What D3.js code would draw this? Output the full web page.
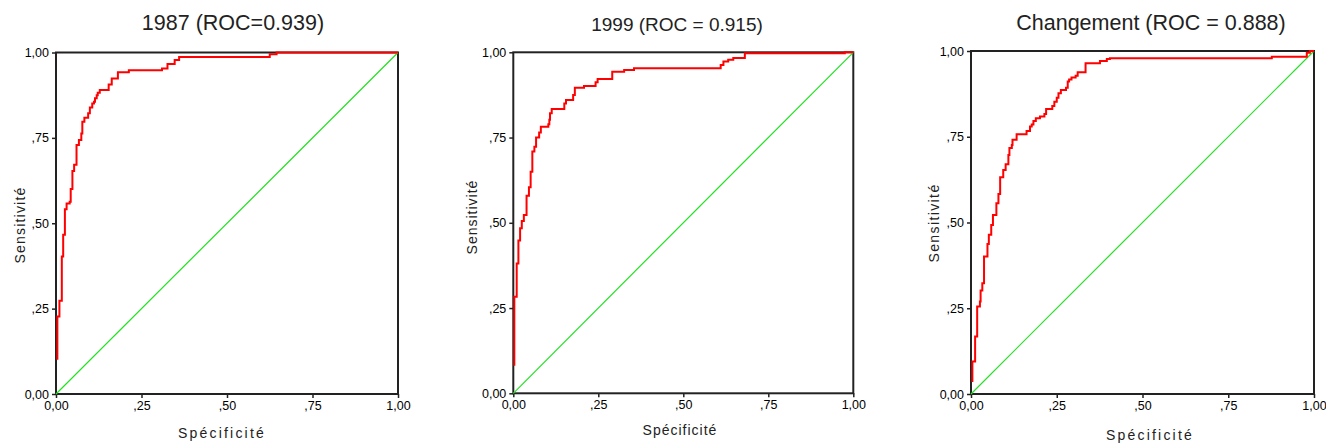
<!DOCTYPE html>
<html><head><meta charset="utf-8">
<script src="https://cdn.jsdelivr.net/npm/d3@7"></script>
<style>
html,body{margin:0;padding:0;background:#fff;}
svg{display:block;font-family:"Liberation Sans",Arial,sans-serif;}
</style></head>
<body>
<svg id="chart" width="1326" height="446"></svg>
<script>
// ---- data ----
const titles = ["1987 (ROC=0.939)", "1999 (ROC = 0.915)", "Changement (ROC = 0.888)"];
const xLabel = "Spécificité";
const yLabel = "Sensitivité";
const tickValues = [0, 0.25, 0.5, 0.75, 1];
const tickLabels = ["0,00", ",25", ",50", ",75", "1,00"];

const fpr1987 = [0.004,0.004,0.010,0.017,0.021,0.026,0.031,0.040,0.043,0.048,0.053,0.060,0.067,0.074,0.077,0.083,0.094,0.099,0.106,0.111,0.114,0.119,0.122,0.128,0.154,0.163,0.181,0.213,0.310,0.326,0.347,0.360,0.625,0.645,1.0];
const tpr1987 = [0.100,0.227,0.273,0.403,0.466,0.541,0.558,0.563,0.600,0.653,0.671,0.729,0.744,0.763,0.797,0.809,0.822,0.839,0.851,0.856,0.866,0.875,0.882,0.890,0.906,0.924,0.942,0.948,0.953,0.966,0.978,0.987,0.995,1.0,1.0];

const fpr1999 = [0.003,0.003,0.010,0.015,0.020,0.025,0.031,0.039,0.046,0.051,0.056,0.062,0.067,0.076,0.081,0.103,0.106,0.108,0.113,0.150,0.155,0.176,0.181,0.208,0.242,0.248,0.291,0.326,0.355,0.610,0.618,0.632,0.647,0.681,0.975,1.0];
const tpr1999 = [0.081,0.283,0.381,0.448,0.484,0.505,0.523,0.579,0.604,0.650,0.709,0.723,0.750,0.765,0.782,0.789,0.802,0.821,0.834,0.850,0.860,0.875,0.896,0.901,0.912,0.922,0.943,0.948,0.953,0.963,0.973,0.978,0.983,0.997,1.0,1.0];

const fprChg = [0.004,0.004,0.012,0.018,0.026,0.028,0.033,0.038,0.048,0.052,0.059,0.064,0.074,0.080,0.085,0.094,0.101,0.109,0.112,0.119,0.121,0.133,0.162,0.172,0.177,0.182,0.189,0.201,0.214,0.219,0.237,0.243,0.250,0.255,0.262,0.277,0.282,0.286,0.293,0.305,0.311,0.334,0.376,0.396,0.405,0.877,0.979,0.988,1.0];
const tprChg = [0.035,0.095,0.168,0.255,0.270,0.302,0.323,0.401,0.437,0.464,0.493,0.522,0.556,0.583,0.632,0.653,0.670,0.697,0.717,0.726,0.741,0.757,0.767,0.780,0.786,0.796,0.804,0.809,0.816,0.831,0.840,0.852,0.864,0.877,0.886,0.893,0.911,0.917,0.923,0.928,0.938,0.964,0.971,0.977,0.979,0.983,0.995,1.0,1.0];

const fprSeries = [fpr1987, fpr1999, fprChg];
const tprSeries = [tpr1987, tpr1999, tprChg];

// ---- layout ----
const layout = [
  {l:56, t:52.5, r:398, b:394, tx:233, ty:30, tfs:21.5, xlx:222, xly:438, xls:2.2, ylx:25, yly:225, yls:1.2},
  {l:513.3, t:52.3, r:853.3, b:393.3, tx:677, ty:31, tfs:19, xlx:680, xly:435, xls:1.0, ylx:477, yly:217, yls:1.0},
  {l:971, t:51, r:1314, b:394, tx:1151, ty:29.5, tfs:21.5, xlx:1150, xly:440, xls:2.2, ylx:939, yly:223, yls:1.4}
];

const svg = d3.select("#chart");

layout.forEach((L, i) => {
  const x = d3.scaleLinear().domain([0,1]).range([L.l, L.r]);
  const y = d3.scaleLinear().domain([0,1]).range([L.b, L.t]);
  const g = svg.append("g");

  // axes
  const ax = g.append("g").attr("transform", `translate(0,${L.b})`)
    .call(d3.axisBottom(x).tickValues(tickValues).tickFormat((d,k)=>tickLabels[k]).tickSize(4).tickPadding(3));
  const ay = g.append("g").attr("transform", `translate(${L.l},0)`)
    .call(d3.axisLeft(y).tickValues(tickValues).tickFormat((d,k)=>tickLabels[k]).tickSize(4).tickPadding(3));
  [ax, ay].forEach(a => {
    a.select(".domain").remove();
    a.selectAll(".tick line").attr("stroke", "#222").attr("stroke-width", 1.5);
    a.selectAll(".tick text").attr("fill", "#000").style("font-size", "12.5px")
      .style("font-family", '"Liberation Sans", Arial, sans-serif');
  });

  // frame
  g.append("rect").attr("x", L.l).attr("y", L.t)
    .attr("width", L.r - L.l).attr("height", L.b - L.t)
    .attr("fill", "none").attr("stroke", "#222").attr("stroke-width", 2);

  // diagonal
  g.append("line").attr("x1", x(0)).attr("y1", y(0)).attr("x2", x(1)).attr("y2", y(1))
    .attr("stroke", "#22e022").attr("stroke-width", 1.2);

  // ROC curve
  const pts = fprSeries[i].map((f, k) => [f, tprSeries[i][k]]);
  const line = d3.line().x(d => x(d[0])).y(d => y(d[1])).curve(d3.curveStepAfter);
  g.append("path").datum(pts).attr("d", line)
    .attr("fill", "none").attr("stroke", "#ff0000").attr("stroke-width", 2);

  // title
  g.append("text").attr("x", L.tx).attr("y", L.ty).attr("text-anchor", "middle")
    .style("font-size", L.tfs + "px").attr("fill", "#222").text(titles[i]);

  // x label
  g.append("text").attr("x", L.xlx).attr("y", L.xly).attr("text-anchor", "middle")
    .style("font-size", "14px").style("letter-spacing", L.xls + "px").attr("fill", "#222").text(xLabel);

  // y label
  g.append("text").attr("transform", `translate(${L.ylx},${L.yly}) rotate(-90)`)
    .attr("text-anchor", "middle")
    .style("font-size", "14px").style("letter-spacing", L.yls + "px").attr("fill", "#222").text(yLabel);
});
</script>
</body></html>
